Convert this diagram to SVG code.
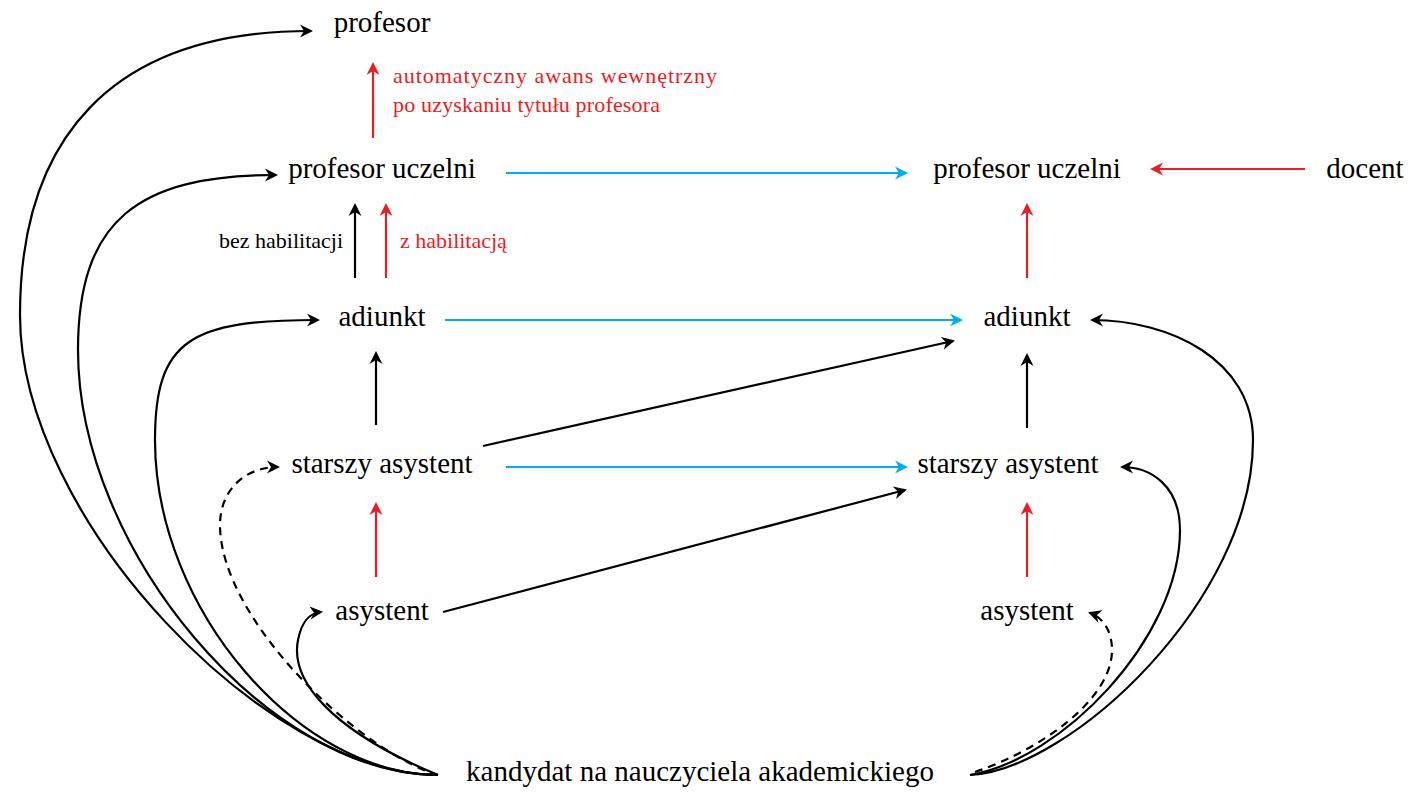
<svg xmlns="http://www.w3.org/2000/svg" width="1426" height="796" viewBox="0 0 1426 796">
<style>
text{font-family:'Liberation Serif','DejaVu Serif','Noto Serif',serif}
.n{font-size:29px;fill:#000;text-anchor:middle}
.l{font-size:22px}
.red{fill:#ed1c24}
.blk{fill:#000}
.ck{fill:none;stroke:#000;stroke-width:2.2}
.cr{fill:none;stroke:#ed1c24;stroke-width:2.2}
.cb{fill:none;stroke:#00aeef;stroke-width:2.2}
.d{stroke-dasharray:8 6}
</style>
<defs>
<marker id="ak" viewBox="-15 -8 18 16" refX="-2" refY="0" markerWidth="18" markerHeight="16" markerUnits="userSpaceOnUse" orient="auto"><path d="M0,0 L-13,-6.5 L-9,0 L-13,6.5 Z" fill="#000"/></marker>
<marker id="ar" viewBox="-15 -8 18 16" refX="-2" refY="0" markerWidth="18" markerHeight="16" markerUnits="userSpaceOnUse" orient="auto"><path d="M0,0 L-13,-6.5 L-9,0 L-13,6.5 Z" fill="#ed1c24"/></marker>
<marker id="ab" viewBox="-15 -8 18 16" refX="-2" refY="0" markerWidth="18" markerHeight="16" markerUnits="userSpaceOnUse" orient="auto"><path d="M0,0 L-13,-6.5 L-9,0 L-13,6.5 Z" fill="#00aeef"/></marker>
</defs>
<g id="connectors">
<path class="cr" d="M373 138 V64" marker-end="url(#ar)"/>
<path class="ck" d="M355 278 V205" marker-end="url(#ak)"/>
<path class="cr" d="M386 278 V205" marker-end="url(#ar)"/>
<path class="cb" d="M506 173 H906" marker-end="url(#ab)"/>
<path class="cr" d="M1305 169 H1152" marker-end="url(#ar)"/>
<path class="cr" d="M1027 278 V205" marker-end="url(#ar)"/>
<path class="cb" d="M445 320 H961" marker-end="url(#ab)"/>
<path class="ck" d="M376 425 V353" marker-end="url(#ak)"/>
<path class="ck" d="M1027 428 V355" marker-end="url(#ak)"/>
<path class="ck" d="M483 446 L953 341" marker-end="url(#ak)"/>
<path class="cb" d="M506 467 H906" marker-end="url(#ab)"/>
<path class="ck" d="M443 612 L905 490" marker-end="url(#ak)"/>
<path class="cr" d="M376 577 V504" marker-end="url(#ar)"/>
<path class="cr" d="M1027 577 V504" marker-end="url(#ar)"/>
<path class="ck" d="M438 775 C268 775 20 520 20 315 C20 140 110 31 311 31" marker-end="url(#ak)"/>
<path class="ck" d="M438 775 C268 775 78 550 78 350 C78 220 138 175 276 175" marker-end="url(#ak)"/>
<path class="ck" d="M438 775 C300 775 155 610 155 440 C155 340 190 320 318 320" marker-end="url(#ak)"/>
<path class="ck d" d="M438 775 C360 752 220 620 220 525 C220 490 245 467 278 467" marker-end="url(#ak)"/>
<path class="ck" d="M438 775 C330 730 290 680 298 640 C302 620 310 613 321 612" marker-end="url(#ak)"/>
<path class="ck" d="M970 775 C1070 770 1253 600 1253 440 C1253 360 1170 320 1092 320" marker-end="url(#ak)"/>
<path class="ck" d="M970 775 C1060 760 1180 640 1180 530 C1180 485 1150 467 1122 467" marker-end="url(#ak)"/>
<path class="ck d" d="M975 772 C1040 750 1112 700 1112 650 C1112 630 1102 617 1090 613" marker-end="url(#ak)"/>
<text class="l red" x="393" y="83" textLength="324">automatyczny awans wewnętrzny</text>
<text class="l red" x="393" y="112" textLength="267">po uzyskaniu tytułu profesora</text>
<text class="l blk" x="343" y="248" text-anchor="end">bez habilitacji</text>
<text class="l red" x="400" y="248">z habilitacją</text>
</g>
<g id="profesor"><text class="n" x="382" y="32">profesor</text></g>
<g id="profesor-uczelni-l"><text class="n" x="382" y="178">profesor uczelni</text></g>
<g id="profesor-uczelni-r"><text class="n" x="1027" y="178">profesor uczelni</text></g>
<g id="docent"><text class="n" x="1365" y="178">docent</text></g>
<g id="adiunkt-l"><text class="n" x="382" y="326">adiunkt</text></g>
<g id="adiunkt-r"><text class="n" x="1027" y="326">adiunkt</text></g>
<g id="starszy-l"><text class="n" x="382" y="473">starszy asystent</text></g>
<g id="starszy-r"><text class="n" x="1008" y="473">starszy asystent</text></g>
<g id="asystent-l"><text class="n" x="382" y="620">asystent</text></g>
<g id="asystent-r"><text class="n" x="1027" y="620">asystent</text></g>
<g id="kandydat"><text class="n" x="700" y="781">kandydat na nauczyciela akademickiego</text></g>
</svg>
